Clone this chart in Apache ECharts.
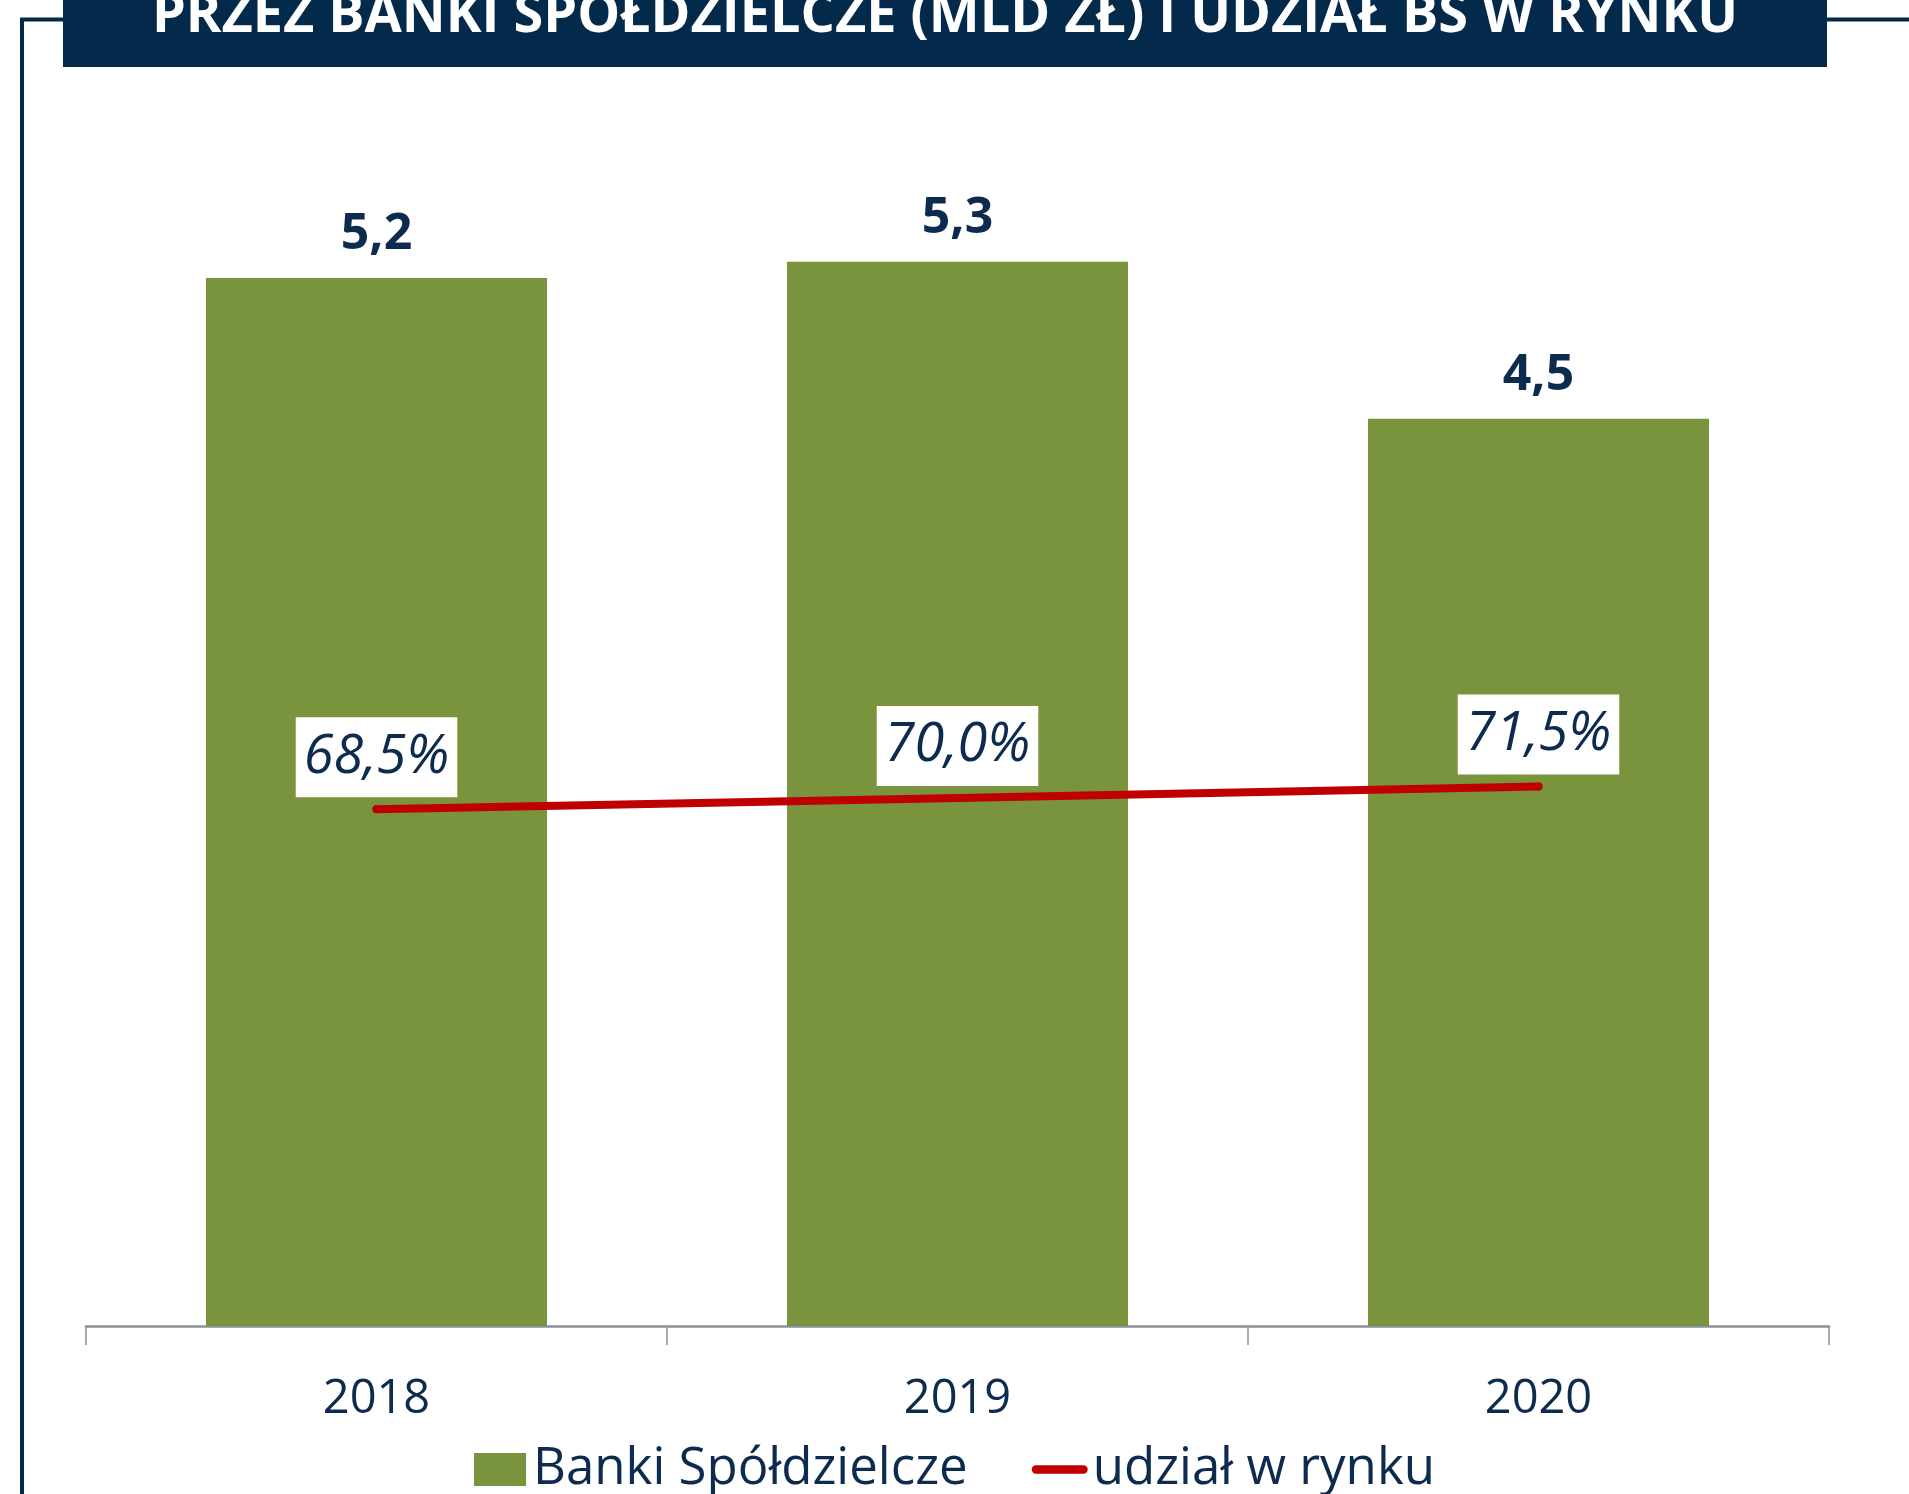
<!DOCTYPE html>
<html>
<head>
<meta charset="utf-8">
<script src="https://cdn.jsdelivr.net/npm/echarts@6/dist/echarts.min.js"></script>
<style>
  html, body { margin: 0; padding: 0; background: #fff; }
  #chart { width: 1909px; height: 1494px; }
</style>
</head>
<body>
<div id="chart"></div>
<script>
const years = ['2018', '2019', '2020'];
const bankValues = [5.21, 5.29, 4.51];     // mld zł
const marketShare = [68.5, 70.0, 71.5];    // %
const titleText = 'PRZEZ BANKI SPÓŁDZIELCZE (MLD ZŁ) I UDZIAŁ BS W RYNKU';
const seriesNames = ['Banki Spółdzielcze', 'udział w rynku'];

const navy = '#0C2B4E';
const green = '#7A943E';
const red = '#C00000';

const fmt = v => v.toFixed(1).replace('.', ',');

const chart = echarts.init(document.getElementById('chart'));

const option = {
  animation: false,
  textStyle: { fontFamily: 'Open Sans' },
  grid: { left: 86, right: 80, top: 119, bottom: 168 },
  xAxis: {
    type: 'category',
    data: years,
    axisLine: { lineStyle: { color: '#8B9099', width: 2.5 } },
    axisTick: { show: true, length: 19, lineStyle: { color: '#8B9099', width: 1.5 } },
    axisLabel: { color: navy, fontSize: 47, margin: 50 }
  },
  yAxis: [
    { type: 'value', min: 0, max: 6, show: false, splitLine: { show: false } },
    { type: 'value', min: 0, max: 160, show: false, splitLine: { show: false } }
  ],
  legend: {
    left: 'center',
    top: 1439,
    itemWidth: 56,
    itemHeight: 33,
    itemGap: 64,
    textStyle: { color: navy, fontSize: 51 },
    data: [
      { name: seriesNames[0], icon: 'path://M0,0H52V33H0Z' },
      { name: seriesNames[1], icon: 'path://M4.5,0H55.5A4.5,4.5 0 0 1 55.5,9H4.5A4.5,4.5 0 0 1 4.5,0Z', itemStyle: { color: red } }
    ]
  },
  series: [
    {
      name: seriesNames[0],
      type: 'bar',
      data: bankValues,
      barWidth: '58.7%',
      itemStyle: { color: green },
      label: {
        show: true,
        position: 'top',
        distance: 18,
        color: navy,
        fontSize: 50,
        fontWeight: 'bold',
        formatter: p => fmt(p.value)
      }
    },
    {
      name: seriesNames[1],
      type: 'line',
      yAxisIndex: 1,
      data: marketShare,
      symbol: 'circle',
      symbolSize: 8,
      showSymbol: true,
      itemStyle: { color: red },
      lineStyle: { color: red, width: 8, cap: 'round' },
      label: {
        show: true,
        position: 'top',
        distance: 8,
        color: navy,
        fontSize: 54,
        fontStyle: 'italic',
        backgroundColor: '#fff',
        padding: [13, 8, 13, 8],
        formatter: p => fmt(p.value) + '%'
      }
    }
  ],
  graphic: [
    {
      type: 'polyline',
      shape: { points: [[63, 19.5], [22, 19.5], [22, 1500]] },
      style: { stroke: '#032A4B', lineWidth: 4, fill: null }
    },
    {
      type: 'line',
      shape: { x1: 1827, y1: 19.5, x2: 1909, y2: 19.5 },
      style: { stroke: '#032A4B', lineWidth: 4 }
    },
    {
      type: 'rect',
      shape: { x: 63, y: -10, width: 1764, height: 77 },
      style: { fill: '#032A4B' }
    },
    {
      type: 'text',
      x: 945,
      y: 17,
      style: {
        text: titleText,
        fill: '#fff',
        font: 'bold 54px "Open Sans"',
        align: 'center',
        verticalAlign: 'middle'
      }
    }
  ]
};

chart.setOption(option);
</script>
</body>
</html>
